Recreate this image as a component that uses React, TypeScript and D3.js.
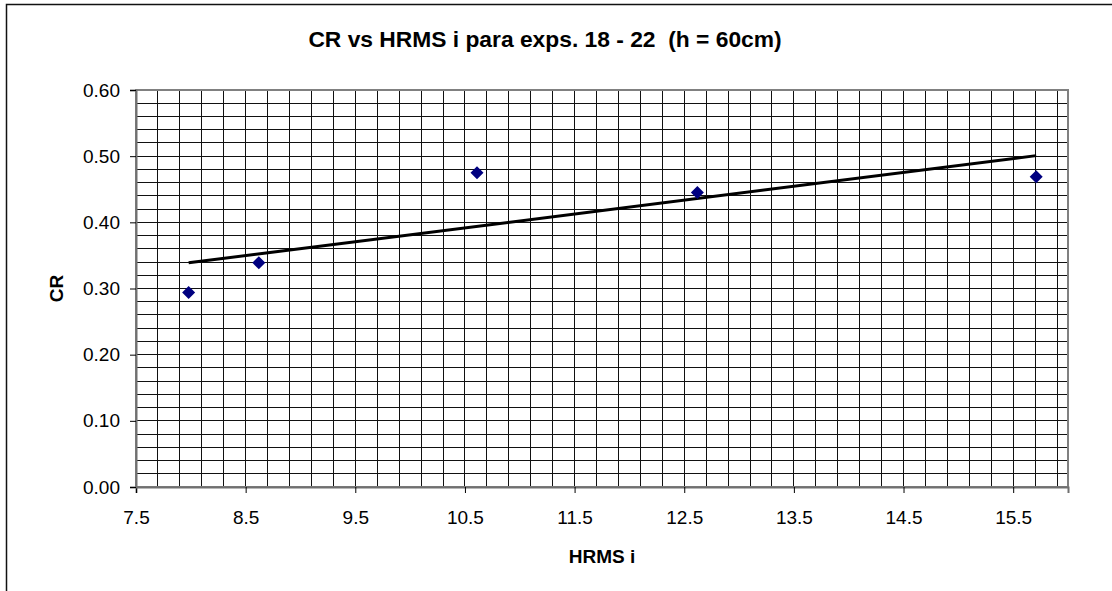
import React, { useRef, useEffect } from 'react';
import * as d3 from 'd3';

// HRMS i (x) and CR (y) for exps. 18 - 22
const HRMS_VALUES = [7.98, 8.62, 10.61, 12.62, 15.71];
const CR_VALUES = [0.294, 0.339, 0.475, 0.445, 0.469];

const X_TICKS = [7.5, 8.5, 9.5, 10.5, 11.5, 12.5, 13.5, 14.5, 15.5];
const Y_TICKS = [0, 0.1, 0.2, 0.3, 0.4, 0.5, 0.6];

const TITLE = 'CR vs HRMS i para exps. 18 - 22  (h = 60cm)';
const X_TITLE = 'HRMS i';
const Y_TITLE = 'CR';

const WIDTH = 1112;
const HEIGHT = 591;
const FONT = '"Liberation Sans", Arial, Helvetica, sans-serif';

export default function App() {
  const svgRef = useRef<SVGSVGElement>(null);

  useEffect(() => {
    if (!svgRef.current) return;
    const svg = d3.select(svgRef.current);
    svg.selectAll('*').remove();

    const plot = { left: 136, top: 90, right: 1068, bottom: 487 };

    const x = d3.scaleLinear().domain([7.5, 16]).range([plot.left, plot.right]);
    const y = d3.scaleLinear().domain([0, 0.6]).range([plot.bottom, plot.top]);

    // chart area border (runs off the right and bottom edges)
    svg.append('path')
      .attr('d', `M6.5,${HEIGHT + 2} L6.5,4.5 L${WIDTH + 2},4.5`)
      .attr('fill', 'none').attr('stroke', '#111').attr('stroke-width', 1.5);

    // title
    svg.append('text')
      .attr('x', 545).attr('y', 47)
      .attr('text-anchor', 'middle')
      .attr('font-family', FONT).attr('font-size', '22.8px').attr('font-weight', 'bold')
      .style('white-space', 'pre')
      .text(TITLE);

    const g = svg.append('g');

    // gridlines, every 0.2 along x and 0.02 along y
    const vGrid = d3.range(0, 43).map(i => 7.5 + i * 0.2);
    const hGrid = d3.range(0, 31).map(i => i * 0.02);

    g.selectAll('.grid-x')
      .data(vGrid)
      .join('line')
      .attr('x1', d => x(d)).attr('x2', d => x(d))
      .attr('y1', plot.top).attr('y2', plot.bottom)
      .attr('stroke', '#111').attr('stroke-width', 1)
      .attr('shape-rendering', 'crispEdges');

    g.selectAll('.grid-y')
      .data(hGrid)
      .join('line')
      .attr('x1', plot.left).attr('x2', plot.right)
      .attr('y1', d => y(d)).attr('y2', d => y(d))
      .attr('stroke', '#111').attr('stroke-width', 1)
      .attr('shape-rendering', 'crispEdges');

    // plot area border
    g.append('rect')
      .attr('x', plot.left).attr('y', plot.top)
      .attr('width', plot.right - plot.left).attr('height', plot.bottom - plot.top)
      .attr('fill', 'none').attr('stroke', '#808080').attr('stroke-width', 2);

    // axes
    g.append('g')
      .attr('transform', `translate(0,${plot.bottom})`)
      .call(d3.axisBottom(x).tickValues(X_TICKS).tickSize(6).tickPadding(18).tickFormat(d => d3.format('.1f')(d as number)))
      .call(a => a.select('.domain').attr('stroke', '#707070').attr('stroke-width', 2))
      .call(a => a.selectAll('line').attr('stroke', '#000'))
      .call(a => a.selectAll('text').attr('fill', '#000').attr('font-family', FONT).attr('font-size', '19px'));

    g.append('g')
      .attr('transform', `translate(${plot.left},0)`)
      .call(d3.axisLeft(y).tickValues(Y_TICKS).tickSize(6).tickPadding(10).tickFormat(d => d3.format('.2f')(d as number)))
      .call(a => a.select('.domain').attr('stroke', '#707070').attr('stroke-width', 2))
      .call(a => a.selectAll('line').attr('stroke', '#000'))
      .call(a => a.selectAll('text').attr('fill', '#000').attr('font-family', FONT).attr('font-size', '19px'));

    // axis titles
    svg.append('text')
      .attr('x', (plot.left + plot.right) / 2).attr('y', 563)
      .attr('text-anchor', 'middle')
      .attr('font-family', FONT).attr('font-size', '19px').attr('font-weight', 'bold')
      .text(X_TITLE);

    svg.append('text')
      .attr('transform', `translate(63,${(plot.top + plot.bottom) / 2}) rotate(-90)`)
      .attr('text-anchor', 'middle')
      .attr('font-family', FONT).attr('font-size', '19px').attr('font-weight', 'bold')
      .text(Y_TITLE);

    // linear trendline (least squares over the points)
    const pts = HRMS_VALUES.map((v, i) => ({ x: v, y: CR_VALUES[i] }));
    const mx = d3.mean(pts, p => p.x)!;
    const my = d3.mean(pts, p => p.y)!;
    const slope = d3.sum(pts, p => (p.x - mx) * (p.y - my)) / d3.sum(pts, p => (p.x - mx) ** 2);
    const [x0, x1] = d3.extent(HRMS_VALUES) as [number, number];
    const trend = [x0, x1].map(v => ({ x: v, y: my + slope * (v - mx) }));

    const line = d3.line<{ x: number; y: number }>()
      .x(d => x(d.x))
      .y(d => y(d.y));

    g.append('path')
      .datum(trend)
      .attr('d', line)
      .attr('fill', 'none')
      .attr('stroke', '#000')
      .attr('stroke-width', 3);

    // diamond markers
    const r = 6.5;
    g.selectAll('.pt')
      .data(pts)
      .join('path')
      .attr('transform', d => `translate(${x(d.x)},${y(d.y)})`)
      .attr('d', `M0,${-r}L${r},0L0,${r}L${-r},0Z`)
      .attr('fill', '#000080');
  }, []);

  return (
    <>
      <style>{'body{margin:0}'}</style>
      <svg ref={svgRef} width={WIDTH} height={HEIGHT} style={{ display: 'block', background: '#fff' }} />
    </>
  );
}
